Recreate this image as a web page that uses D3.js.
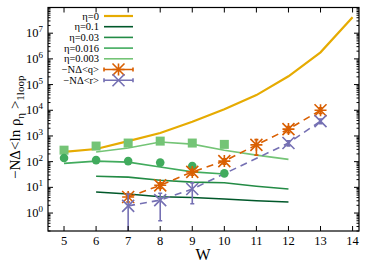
<!DOCTYPE html>
<html>
<head>
<meta charset="utf-8">
<script src="https://cdn.jsdelivr.net/npm/d3@7"></script>
<style>
  body { margin: 0; background: #fff; }
  svg text { font-family: "Liberation Serif", "DejaVu Serif", serif; }
</style>
</head>
<body>
<div id="chart"></div>
<script>
// W values for each series
const wEta0 = [5, 6, 7, 8, 9, 10, 11, 12, 13, 14];
const eta0 = [240, 310, 630, 1300, 3600, 11000, 39000, 210000, 1800000, 42000000];

const wEta01 = [6, 7, 8, 9, 10, 11, 12];
const eta01 = [6.6, 5.5, 4.3, 4.0, 3.5, 3.0, 2.7];

const wEta003 = [6, 7, 8, 9, 10, 11, 12];
const eta003 = [27, 25, 19, 16, 15, 11, 8.6];

const wEta0016 = [5, 6, 7, 8, 9, 10];
const eta0016 = [86, 105, 96, 62, 40, 33];
const eta0016Pts = [138, 115, 105, 92, 68, 35];

const wEta0003 = [6, 7, 8, 9, 10, 11, 12];
const eta0003 = [236, 340, 580, 480, 280, 180, 123];
const wEta0003Pts = [5, 6, 7, 8, 9, 10];
const eta0003Pts = [280, 405, 530, 630, 530, 470];

const wQ = [7, 8, 9, 10, 11, 12, 13];
const qVals = [4.2, 12, 40, 105, 450, 1850, 10000];
const qErr = [1.5, 3, 10, 25, 270, 500, 2500];

const wR = [7, 8, 9, 12, 13];
const rVals = [1.9, 3.2, 8.6, 530, 3800];
const rErr = [3.6, 2.7, 6.3, 120, 800];

const xTicks = [5, 6, 7, 8, 9, 10, 11, 12, 13, 14];
const yTickExps = [0, 1, 2, 3, 4, 5, 6, 7];

const legendLabels = ["η=0", "η=0.1", "η=0.03", "η=0.016", "η=0.003", "−NΔ<q>", "−NΔ<r>"];

const colors = {
    eta0: "#e6ab02",
    eta01: "#00582a",
    eta003: "#238b45",
    eta0016: "#41ab5d",
    eta0003: "#74c476",
    q: "#d95f02",
    r: "#7570b3"
};

const width = 374, height = 264;
const margin = { top: 7.5, right: 15, bottom: 33, left: 48 };

const svg = d3.select("#chart").append("svg")
    .attr("width", width)
    .attr("height", height);

const x = d3.scaleLinear().domain([4.5, 14.2]).range([margin.left, width - margin.right]);
const y = d3.scaleLog().domain([0.2, 1e8]).range([height - margin.bottom, margin.top]);

const x0 = x.range()[0], x1 = x.range()[1];
const y0 = y.range()[0], y1 = y.range()[1];

svg.append("clipPath").attr("id", "clip")
    .append("rect")
    .attr("x", x0).attr("y", y1)
    .attr("width", x1 - x0).attr("height", y0 - y1);

const plot = svg.append("g").attr("clip-path", "url(#clip)");

const line = d3.line().x(d => x(d[0])).y(d => y(d[1]));
const zip = (a, b) => a.map((v, i) => [v, b[i]]);

function drawLine(ws, vals, color, w, dash) {
    plot.append("path")
        .datum(zip(ws, vals))
        .attr("d", line)
        .attr("fill", "none")
        .attr("stroke", color)
        .attr("stroke-width", w)
        .attr("stroke-dasharray", dash || null);
}

drawLine(wEta0, eta0, colors.eta0, 2.2);
drawLine(wEta01, eta01, colors.eta01, 1.6);
drawLine(wEta003, eta003, colors.eta003, 1.6);
drawLine(wEta0016, eta0016, colors.eta0016, 1.6);
drawLine(wEta0003, eta0003, colors.eta0003, 1.6);
drawLine(wQ, qVals, colors.q, 1.6, "7,5");
drawLine(wR, rVals, colors.r, 1.6, "7,5");

// markers for eta=0.003 (squares) and eta=0.016 (circles)
plot.selectAll(".sq")
    .data(zip(wEta0003Pts, eta0003Pts))
    .enter().append("rect")
    .attr("x", d => x(d[0]) - 4.5)
    .attr("y", d => y(d[1]) - 4.5)
    .attr("width", 9).attr("height", 9)
    .attr("fill", colors.eta0003);

plot.selectAll(".circ")
    .data(zip(wEta0016, eta0016Pts))
    .enter().append("circle")
    .attr("cx", d => x(d[0]))
    .attr("cy", d => y(d[1]))
    .attr("r", 4.3)
    .attr("fill", colors.eta0016);

function starPath(cx, cy, s) {
    return `M${cx - s},${cy}H${cx + s}M${cx},${cy - s}V${cy + s}` +
        `M${cx - s},${cy - s}L${cx + s},${cy + s}M${cx - s},${cy + s}L${cx + s},${cy - s}`;
}
function crossPath(cx, cy, s) {
    return `M${cx - s},${cy - s}L${cx + s},${cy + s}M${cx - s},${cy + s}L${cx + s},${cy - s}`;
}

function drawErrSeries(ws, vals, errs, color, shape) {
    const g = plot.append("g").attr("stroke", color).attr("stroke-width", 1.6).attr("fill", "none");
    ws.forEach((w, i) => {
        const cx = x(w);
        const lo = vals[i] - errs[i];
        const yLo = lo > 0 ? y(lo) : y0 + 5;
        const yHi = y(vals[i] + errs[i]);
        g.append("path").attr("d", `M${cx},${yLo}V${yHi}M${cx - 2},${yLo}H${cx + 2}M${cx - 2},${yHi}H${cx + 2}`);
        g.append("path").attr("d", shape(cx, y(vals[i]), 6));
    });
}

drawErrSeries(wQ, qVals, qErr, colors.q, starPath);
drawErrSeries(wR, rVals, rErr, colors.r, crossPath);

// frame
svg.append("rect")
    .attr("x", x0).attr("y", y1)
    .attr("width", x1 - x0).attr("height", y0 - y1)
    .attr("fill", "none").attr("stroke", "#000").attr("stroke-width", 1.2);

// x ticks (bottom and top, inward)
const axes = svg.append("g").attr("stroke", "#000").attr("stroke-width", 1);
xTicks.forEach(t => {
    axes.append("line").attr("x1", x(t)).attr("x2", x(t)).attr("y1", y0).attr("y2", y0 - 5);
    axes.append("line").attr("x1", x(t)).attr("x2", x(t)).attr("y1", y1).attr("y2", y1 + 5);
    svg.append("text")
        .attr("x", x(t)).attr("y", y0 + 14)
        .attr("text-anchor", "middle")
        .attr("font-size", 12.5)
        .text(t);
});

// y ticks: major + minor on left and right
for (let e = -1; e <= 7; e++) {
    for (let m = 1; m <= 9; m++) {
        const v = m * Math.pow(10, e);
        if (v < 0.2 || v > 1e8) continue;
        const len = m === 1 ? 5 : 2.5;
        axes.append("line").attr("x1", x0).attr("x2", x0 + len).attr("y1", y(v)).attr("y2", y(v));
        axes.append("line").attr("x1", x1).attr("x2", x1 - len).attr("y1", y(v)).attr("y2", y(v));
    }
}

yTickExps.forEach(e => {
    const t = svg.append("text")
        .attr("x", 43).attr("y", y(Math.pow(10, e)) + 4)
        .attr("text-anchor", "end")
        .attr("font-size", 12.5);
    t.append("tspan").text("10");
    t.append("tspan").attr("dy", -5).attr("font-size", 9).text(e);
});

// axis titles
svg.append("text")
    .attr("x", 203).attr("y", 260)
    .attr("text-anchor", "middle")
    .attr("font-size", 16)
    .text("W");

const yTitle = svg.append("text")
    .attr("transform", `translate(20,${(y0 + y1) / 2 + 8}) rotate(-90)`)
    .attr("text-anchor", "middle")
    .attr("font-size", 15);
yTitle.append("tspan").text("−NΔ<ln ρ");
yTitle.append("tspan").attr("font-size", 11).attr("dy", 4).text("η");
yTitle.append("tspan").attr("dy", -4).text(" >");
yTitle.append("tspan").attr("font-size", 11).attr("dy", 4).text("1loop");

// legend
const legendColors = [colors.eta0, colors.eta01, colors.eta003, colors.eta0016, colors.eta0003, colors.q, colors.r];
const legend = svg.append("g");
legendLabels.forEach((lab, i) => {
    const ly = 16 + i * 10.7;
    legend.append("text")
        .attr("x", 99).attr("y", ly + 3.5)
        .attr("text-anchor", "end")
        .attr("font-size", 10.5)
        .text(lab);
    const g = legend.append("g").attr("stroke", legendColors[i]).attr("fill", "none");
    if (i < 5) {
        g.append("line").attr("x1", 104).attr("x2", 133).attr("y1", ly).attr("y2", ly)
            .attr("stroke-width", i === 0 ? 2.2 : 1.6);
    } else {
        g.attr("stroke-width", 1.6);
        g.append("path").attr("d", `M104,${ly}H133M104,${ly - 2}V${ly + 2}M133,${ly - 2}V${ly + 2}`);
        g.append("path").attr("d", (i === 5 ? starPath : crossPath)(118.5, ly, 6));
    }
});
</script>
</body>
</html>
